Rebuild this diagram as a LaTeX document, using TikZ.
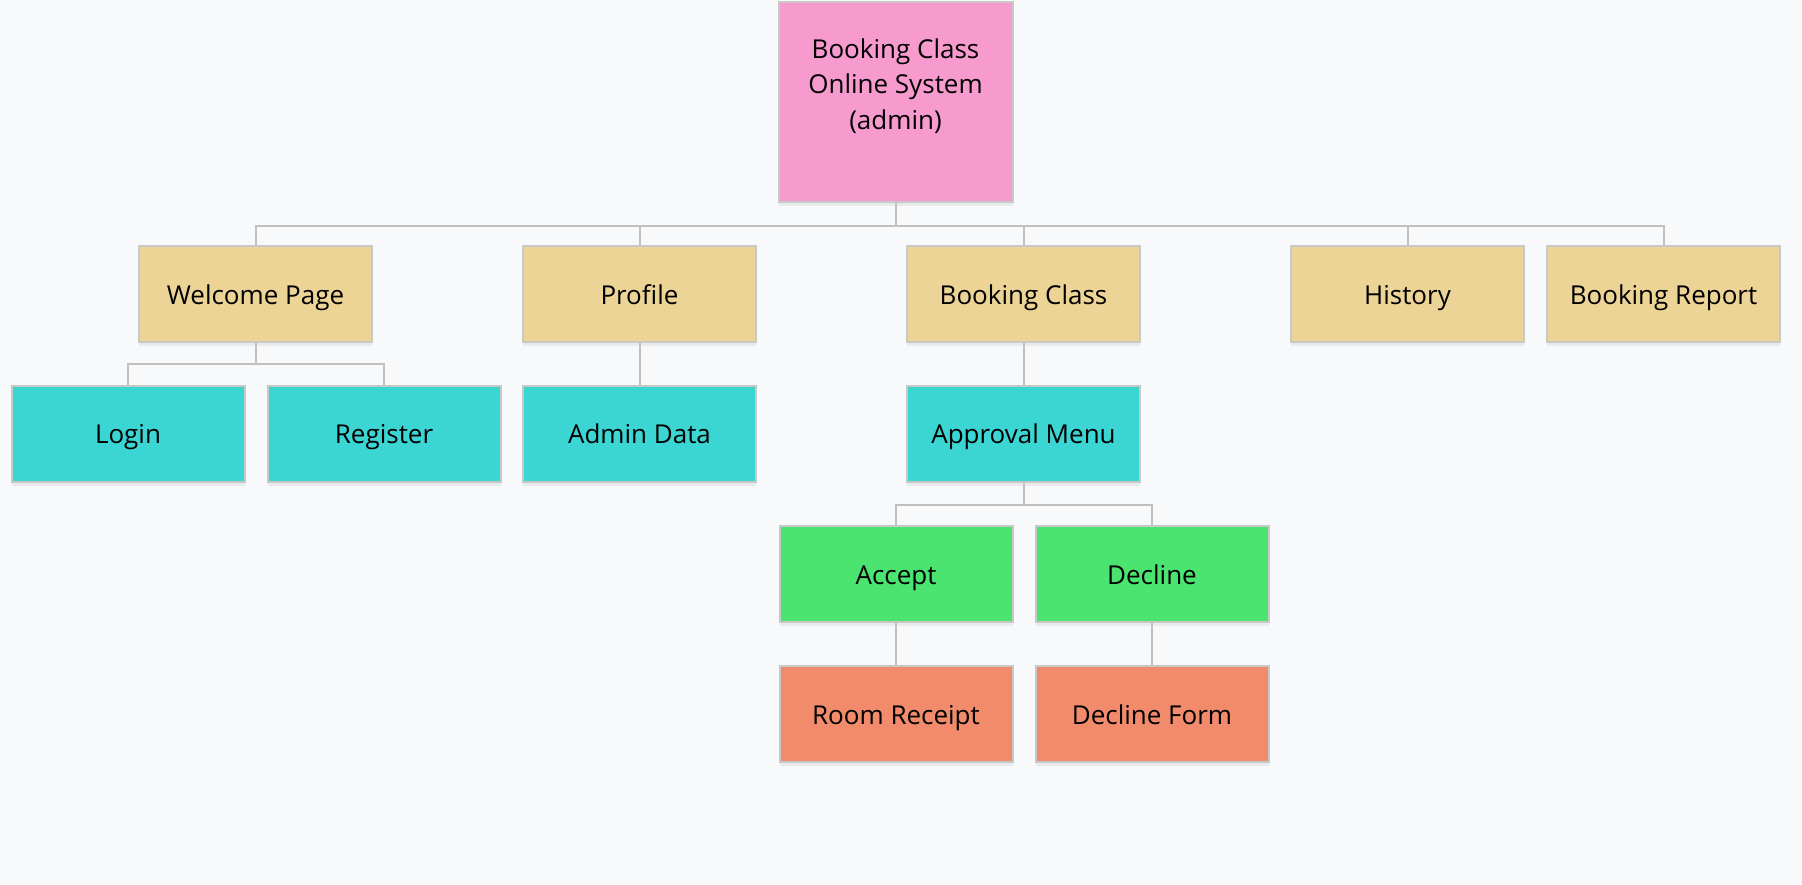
\documentclass[tikz,border=0pt]{standalone}
\usepackage{fontspec}
\setmainfont{Open Sans}
\usetikzlibrary{shadows,calc}
\definecolor{bgc}{RGB}{248,249,251}
\definecolor{pinkc}{RGB}{247,155,207}
\definecolor{tanc}{RGB}{236,212,150}
\definecolor{cyanc}{RGB}{59,214,212}
\definecolor{greenc}{RGB}{75,228,113}
\definecolor{salmonc}{RGB}{241,139,107}
\definecolor{borderc}{RGB}{200,200,200}
\definecolor{linec}{RGB}{192,192,192}
\tikzset{
  box/.style={draw=borderc, line width=2pt, minimum width=233pt, minimum height=96pt,
    inner sep=0pt, text height=26pt, text depth=6pt,
    font=\fontsize{26}{35.5}\selectfont, text=black,
    drop shadow={shadow xshift=0pt, shadow yshift=-4pt, opacity=0.06, fill=black}},
  conn/.style={draw=linec, line width=2pt},
  lbl/.style={font=\fontsize{26}{35.5}\selectfont, align=center, text=black, inner sep=0pt}
}
\begin{document}
\begin{tikzpicture}[x=1pt,y=-1pt]
\fill[bgc] (0,0) rectangle (1802,884);
\useasboundingbox (0,0) rectangle (1802,884);
% root
\node[box, fill=pinkc, minimum width=234pt, minimum height=200pt, text height=, text depth=] (root) at (895.5,101.5) {};
\node[lbl] (rootlbl) at (895.5,86) {Booking Class\\Online System\\(admin)};
% row 1
\node[box, fill=tanc] (welcome) at (255.5,294) {Welcome Page};
\node[box, fill=tanc] (profile) at (639.5,294) {Profile};
\node[box, fill=tanc] (bclass) at (1023.5,294) {Booking Class};
\node[box, fill=tanc] (history) at (1407.5,294) {History};
\node[box, fill=tanc] (report) at (1663.5,294) {Booking Report};
% row 2
\node[box, fill=cyanc] (login) at (128,433.5) {Login};
\node[box, fill=cyanc] (register) at (384,433.5) {Register};
\node[box, fill=cyanc] (admin) at (639.5,433.5) {Admin Data};
\node[box, fill=cyanc] (approval) at (1023.5,433.5) {Approval Menu};
% row 3
\node[box, fill=greenc] (accept) at (896,574) {Accept};
\node[box, fill=greenc] (decline) at (1152,574) {Decline};
% row 4
\node[box, fill=salmonc] (receipt) at (896,714) {Room Receipt};
\node[box, fill=salmonc] (dform) at (1152,714) {Decline Form};
% connectors
\coordinate (bus1) at ([yshift=-23pt]root.south);
\foreach \c in {welcome,profile,bclass,history,report}
  \draw[conn] (root.south) -- (bus1) -| (\c.north);
\coordinate (bus2) at ([yshift=-21pt]welcome.south);
\foreach \c in {login,register}
  \draw[conn] (welcome.south) -- (bus2) -| (\c.north);
\draw[conn] (profile.south) -- (admin.north);
\draw[conn] (bclass.south) -- (approval.north);
\coordinate (bus3) at ([yshift=-22pt]approval.south);
\foreach \c in {accept,decline}
  \draw[conn] (approval.south) -- (bus3) -| (\c.north);
\draw[conn] (accept.south) -- (receipt.north);
\draw[conn] (decline.south) -- (dform.north);
\end{tikzpicture}
\end{document}
